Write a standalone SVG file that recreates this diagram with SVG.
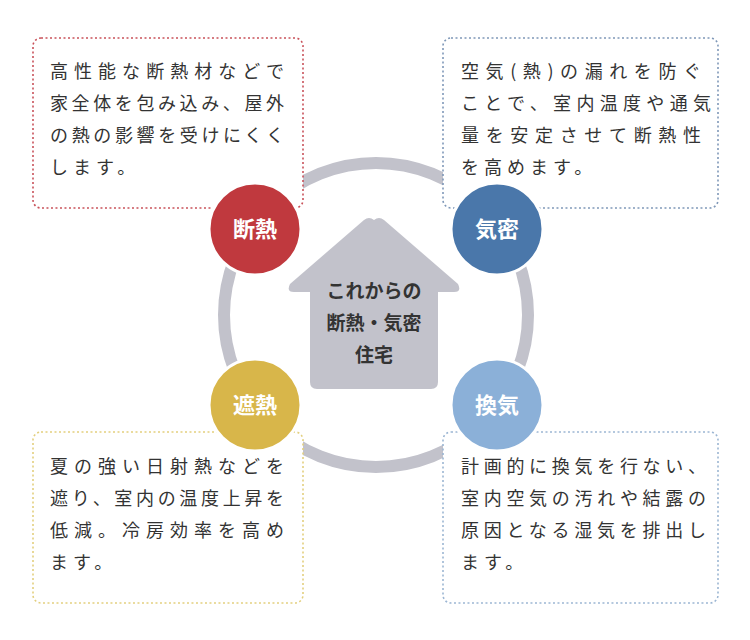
<svg xmlns="http://www.w3.org/2000/svg" width="750" height="640" viewBox="0 0 750 640">
<style>
.t{font-family:"Noto Sans CJK JP",sans-serif;font-size:18px;fill:#333;}
.box{fill:#fff;stroke-width:1.6;stroke-dasharray:2 2.5;}
.c{stroke:#fff;stroke-width:3;}
.cl{font-family:"Noto Sans CJK JP",sans-serif;font-size:22px;font-weight:bold;fill:#fff;text-anchor:middle;}
.h{font-family:"Noto Sans CJK JP",sans-serif;font-size:19px;font-weight:bold;fill:#333;text-anchor:middle;}
</style>
<rect width="750" height="640" fill="#fff"/>
<g id="connectors">
<circle cx="376" cy="315" r="152" fill="none" stroke="#c2c2cb" stroke-width="12"/>
</g>
<g id="box-tl">
<rect class="box" x="33" y="38" width="270" height="170" rx="8" stroke="#c9525a"/>
<text class="t" x="50" y="78" textLength="234" lengthAdjust="spacing">高性能な断熱材などで</text>
<text class="t" x="50" y="110" textLength="234" lengthAdjust="spacing">家全体を包み込み、屋外</text>
<text class="t" x="50" y="142" textLength="234" lengthAdjust="spacing">の熱の影響を受けにくく</text>
<text class="t" x="50" y="174" letter-spacing="5">します。</text>
</g>
<g id="box-tr">
<rect class="box" x="443" y="38" width="275" height="170" rx="8" stroke="#7f98b8"/>
<text class="t" x="461" y="78" textLength="240" lengthAdjust="spacing">空気(熱)の漏れを防ぐ</text>
<text class="t" x="461" y="110" textLength="250" lengthAdjust="spacing">ことで、室内温度や通気</text>
<text class="t" x="461" y="142" textLength="240" lengthAdjust="spacing">量を安定させて断熱性</text>
<text class="t" x="461" y="174" letter-spacing="5">を高めます。</text>
</g>
<g id="box-bl">
<rect class="box" x="33" y="432" width="270" height="171" rx="8" stroke="#e3cf7e"/>
<text class="t" x="50" y="473" textLength="234" lengthAdjust="spacing">夏の強い日射熱などを</text>
<text class="t" x="50" y="505" textLength="234" lengthAdjust="spacing">遮り、室内の温度上昇を</text>
<text class="t" x="50" y="537" textLength="234" lengthAdjust="spacing">低減。冷房効率を高め</text>
<text class="t" x="50" y="569" letter-spacing="5">ます。</text>
</g>
<g id="box-br">
<rect class="box" x="443" y="432" width="275" height="171" rx="8" stroke="#9cb6d3"/>
<text class="t" x="461" y="473" textLength="245" lengthAdjust="spacing">計画的に換気を行ない、</text>
<text class="t" x="461" y="505" textLength="245" lengthAdjust="spacing">室内空気の汚れや結露の</text>
<text class="t" x="461" y="537" textLength="245" lengthAdjust="spacing">原因となる湿気を排出し</text>
<text class="t" x="461" y="569" letter-spacing="5">ます。</text>
</g>
<g id="house">
<path d="M374 220 Q379 216 384 220 L458 284 Q462 292 454 292 L438 292 L438 382 Q438 389 431 389 L317 389 Q310 389 310 382 L310 292 L294 292 Q286 292 290 284 L364 220 Q369 216 374 220 Z" fill="#c2c2cb"/>
<text class="h" x="374" y="298">これからの</text>
<text class="h" x="374" y="330">断熱・気密</text>
<text class="h" x="374" y="362">住宅</text>
</g>
<g id="n-dannetsu"><circle class="c" cx="255" cy="229" r="46" fill="#c0393e"/><text class="cl" x="255" y="237">断熱</text></g>
<g id="n-kimitsu"><circle class="c" cx="497" cy="229" r="46" fill="#4a77aa"/><text class="cl" x="497" y="237">気密</text></g>
<g id="n-shanetsu"><circle class="c" cx="255" cy="405" r="46" fill="#d8b64a"/><text class="cl" x="255" y="413">遮熱</text></g>
<g id="n-kanki"><circle class="c" cx="497" cy="405" r="46" fill="#8bb0d8"/><text class="cl" x="497" y="413">換気</text></g>
</svg>
